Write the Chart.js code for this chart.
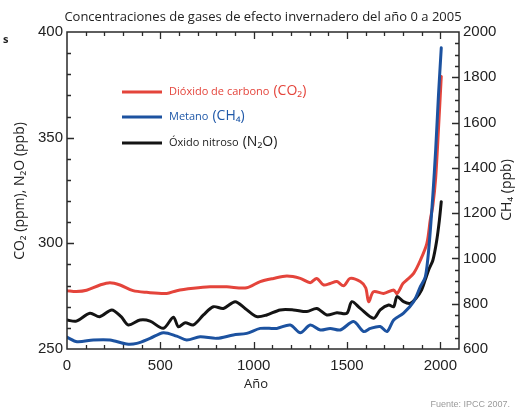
<!DOCTYPE html>
<html><head><meta charset="utf-8">
<script src="https://cdn.jsdelivr.net/npm/chart.js@4.4.0/dist/chart.umd.min.js"></script>
<style>html,body{margin:0;padding:0;background:#fff;overflow:hidden}canvas{display:block}</style>
</head><body>
<canvas id="c" width="517" height="411"></canvas>
<script>
// ---- data ----
const co2Years = [0,50,105,177,230,284,354,427,534,588,677,766,856,963,1035,1106,1178,1250,1303,1338,1374,1410,1446,1482,1517,1571,1600,1616,1642,1696,1750,1768,1800,1821,1857,1893,1928,1946,1960,1975,1990,2005];
const co2Values = [277.6,277.2,277.8,280.3,281.4,280.3,277.6,276.8,276.3,277.6,278.7,279.4,279.4,279,281.9,283.4,284.5,283.4,281.4,283.4,280.3,281,281.9,279.9,283.4,281.9,279,272.4,277.1,276.3,277.9,276.3,281,282.7,285.8,292,300,311,318,331,354,379];

const ch4Years = [0,54,141,230,320,374,445,516,588,641,713,802,891,963,1035,1124,1196,1250,1303,1357,1410,1464,1535,1589,1625,1678,1714,1750,1803,1857,1893,1920,1940,1960,1975,1990,2005];
const ch4Values = [652,632,640,640,622,625,647,672,657,640,654,647,662,669,691,691,706,672,706,684,691,684,721,677,691,699,677,728,758,809,875,920,1060,1280,1480,1720,1930];

const n2oYears = [0,50,123,175,240,290,329,391,445,516,570,597,633,677,731,784,838,901,954,1017,1070,1142,1213,1285,1338,1392,1446,1499,1526,1571,1642,1678,1723,1750,1768,1803,1839,1870,1900,1920,1940,1960,1980,1995,2005];
const n2oValues = [263.7,263.2,266.9,265.3,268.5,265.3,261.4,263.7,263.2,259.8,265,260.5,262.4,261.4,266.1,270,269.2,272.4,269.2,265.3,266.1,268.5,268.5,267.7,269.2,266.1,267.2,266.9,272.4,269.2,264.5,268.5,270.8,270,274.8,272.4,271.6,274,278,283,288,292,301,311,319.7];

const xTickLabels = [0,500,1000,1500,2000];
const leftTickLabels = [250,300,350,400];
const rightTickLabels = [600,800,1000,1200,1400,1600,1800,2000];

const seriesNames = ['Dióxido de carbono', 'Metano', 'Óxido nitroso'];
const seriesFormulas = ['(CO₂)', '(CH₄)', '(N₂O)'];
const titleText = 'Concentraciones de gases de efecto invernadero del año 0 a 2005';
const xTitle = 'Año';
const leftTitle = 'CO₂ (ppm), N₂O (ppb)';
const rightTitle = 'CH₄ (ppb)';
const sourceText = 'Fuente: IPCC 2007.';

// ---- styles ----
const RED = '#e4443b', BLUE = '#1c52a0', BLACK = '#141414';
const W = 517, H = 411;
const PLOT = {left: 67, right: 459, top: 32, bottom: 349};
const NUMFONT = "'Liberation Sans', Arial, sans-serif";
const TXTFONT = "'Open Sans', 'Noto Sans', sans-serif";

const pts = (xs, ys) => xs.map((x, i) => ({x, y: ys[i]}));

const decor = {
  id: 'decor',
  afterDatasetsDraw(chart) {
    const ctx = chart.ctx, a = chart.chartArea;
    const sx = chart.scales.x, sy = chart.scales.y, sy2 = chart.scales.y2;
    ctx.save();
    ctx.strokeStyle = '#2a2a2a';
    ctx.lineWidth = 1.3;
    ctx.beginPath();
    for (let v = 100; v < 2100; v += 100) {
      const p = Math.round(sx.getPixelForValue(v)) + 0.5;
      const L = v % 500 === 0 ? 7 : 4;
      ctx.moveTo(p, a.bottom); ctx.lineTo(p, a.bottom - L);
      ctx.moveTo(p, a.top); ctx.lineTo(p, a.top + L);
    }
    for (let v = 260; v < 400; v += 10) {
      const p = Math.round(sy.getPixelForValue(v)) + 0.5;
      const L = v % 50 === 0 ? 7 : 4;
      ctx.moveTo(a.left, p); ctx.lineTo(a.left + L, p);
    }
    for (let v = 650; v < 2000; v += 50) {
      const p = Math.round(sy2.getPixelForValue(v)) + 0.5;
      const L = v % 200 === 0 ? 7 : 4;
      ctx.moveTo(a.right, p); ctx.lineTo(a.right - L, p);
    }
    ctx.stroke();
    ctx.lineWidth = 1.5;
    ctx.strokeRect(a.left, a.top, a.right - a.left, a.bottom - a.top);

    ctx.fillStyle = '#222';
    ctx.textBaseline = 'middle';
    ctx.textAlign = 'center';
    ctx.font = "13px " + TXTFONT;
    ctx.fillText(titleText, 263, 17);

    ctx.font = "bold 11px " + TXTFONT;
    ctx.textAlign = 'left';
    ctx.fillText('s', 3, 40);

    ctx.textAlign = 'center';
    ctx.font = "13px " + TXTFONT;
    ctx.fillText(xTitle, 256, 384);

    ctx.save();
    ctx.translate(20, 191);
    ctx.rotate(-Math.PI / 2);
    ctx.font = "14px " + TXTFONT;
    ctx.fillText(leftTitle, 0, 0);
    ctx.restore();
    ctx.save();
    ctx.translate(507, 190);
    ctx.rotate(-Math.PI / 2);
    ctx.font = "14px " + TXTFONT;
    ctx.fillText(rightTitle, 0, 0);
    ctx.restore();

    const cols = [RED, BLUE, BLACK];
    const txtCols = [RED, '#1f58a8', '#1a1a1a'];
    const rowsY = [92, 117, 143];
    for (let i = 0; i < 3; i++) {
      ctx.strokeStyle = cols[i];
      ctx.lineWidth = 3;
      ctx.beginPath();
      ctx.moveTo(122, rowsY[i]); ctx.lineTo(162, rowsY[i]);
      ctx.stroke();
      ctx.fillStyle = txtCols[i];
      ctx.textAlign = 'left';
      ctx.font = "11px " + TXTFONT;
      ctx.fillText(seriesNames[i], 169, rowsY[i]);
      const w = ctx.measureText(seriesNames[i]).width;
      ctx.font = "14px " + TXTFONT;
      ctx.fillText(seriesFormulas[i], 169 + w + 4, rowsY[i] - 1);
    }

    ctx.fillStyle = '#9a9a9a';
    ctx.textAlign = 'right';
    ctx.font = "9px " + NUMFONT;
    ctx.fillText(sourceText, 510, 405);
    ctx.restore();
  }
};

const plain = v => String(v);

new Chart(document.getElementById('c'), {
  type: 'line',
  data: {
    datasets: [
      {label: 'CH4', data: pts(ch4Years, ch4Values), yAxisID: 'y2', borderColor: BLUE, order: 0},
      {label: 'CO2', data: pts(co2Years, co2Values), yAxisID: 'y', borderColor: RED, order: 1},
      {label: 'N2O', data: pts(n2oYears, n2oValues), yAxisID: 'y', borderColor: BLACK, order: 2}
    ].map(d => Object.assign({borderWidth: 3, pointRadius: 0, tension: 0.3, fill: false, borderCapStyle: 'round', borderJoinStyle: 'round'}, d))
  },
  options: {
    responsive: false,
    animation: false,
    devicePixelRatio: 1,
    layout: {padding: {top: PLOT.top, left: 0, right: 0, bottom: 0}},
    plugins: {legend: {display: false}, tooltip: {enabled: false}, title: {display: false}},
    scales: {
      x: {
        type: 'linear', min: 0, max: 2100,
        grid: {display: false, drawTicks: false},
        border: {display: false},
        afterBuildTicks: s => { s.ticks = xTickLabels.map(v => ({value: v})); },
        afterFit: s => { s.height = H - PLOT.bottom; },
        ticks: {padding: 8, color: '#222', maxRotation: 0, callback: plain, font: {family: NUMFONT, size: 15}}
      },
      y: {
        type: 'linear', position: 'left', min: 250, max: 400,
        grid: {display: false, drawTicks: false},
        border: {display: false},
        afterBuildTicks: s => { s.ticks = leftTickLabels.map(v => ({value: v})); },
        afterFit: s => { s.width = PLOT.left; },
        ticks: {padding: 4, color: '#222', callback: plain, font: {family: NUMFONT, size: 15}}
      },
      y2: {
        type: 'linear', position: 'right', min: 600, max: 2000,
        grid: {display: false, drawTicks: false},
        border: {display: false},
        afterBuildTicks: s => { s.ticks = rightTickLabels.map(v => ({value: v})); },
        afterFit: s => { s.width = W - PLOT.right; },
        ticks: {padding: 4, color: '#222', callback: plain, font: {family: NUMFONT, size: 15}}
      }
    }
  },
  plugins: [decor]
});
</script>
</body></html>
